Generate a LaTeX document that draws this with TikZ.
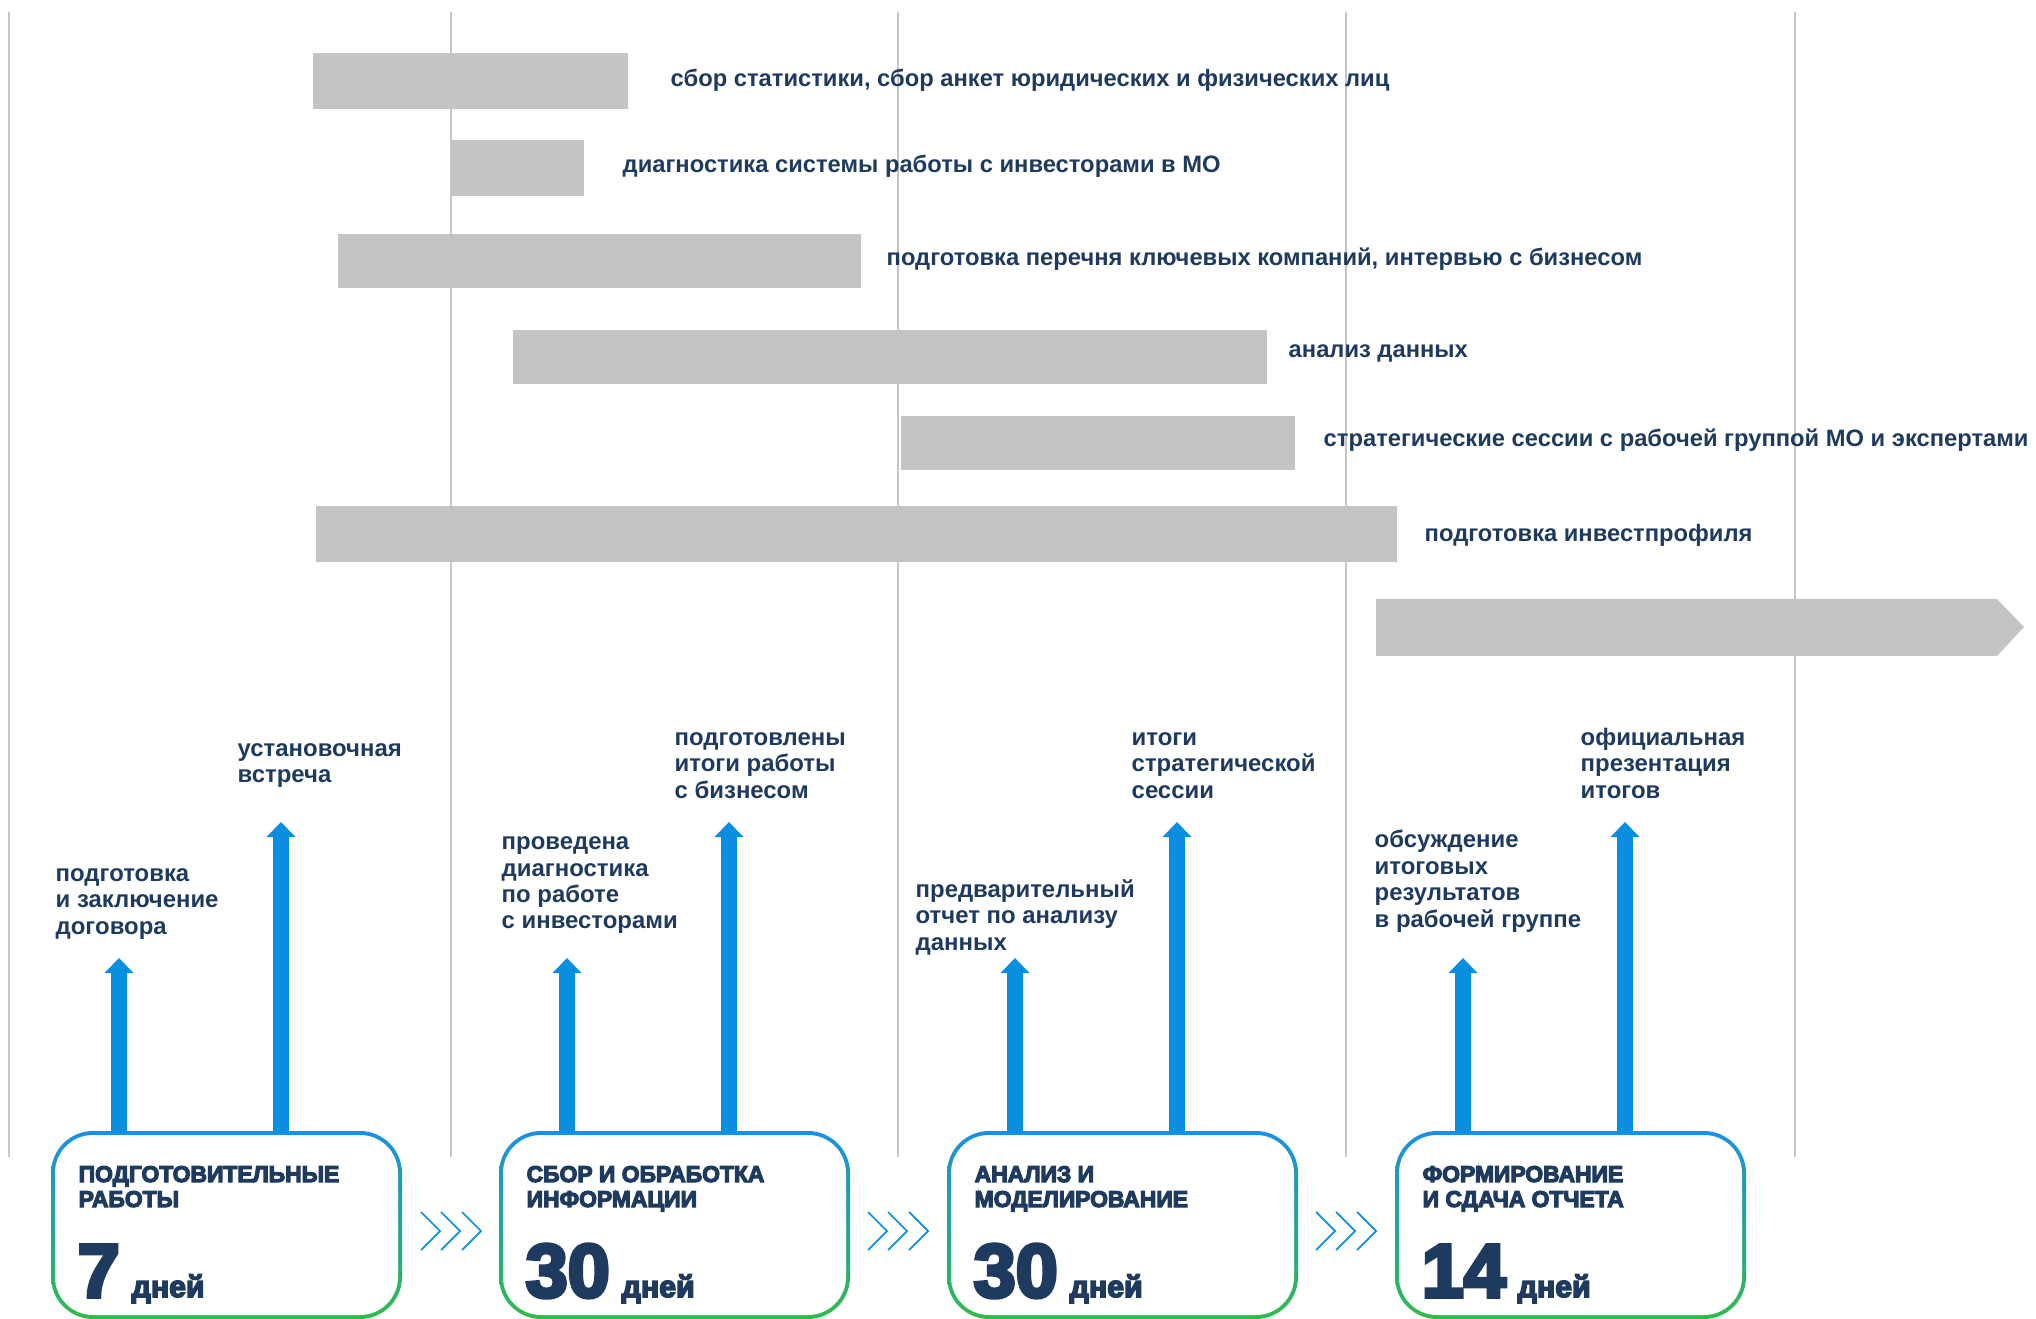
\documentclass[tikz,border=0pt]{standalone}
\usepackage{fontspec}
\setmainfont{Liberation Sans}
\newfontfamily\heavyfont[FakeBold=5]{Liberation Sans}
\usepackage{xcolor}
\usepackage{tikz}
\usetikzlibrary{calc, arrows.meta, positioning}

\definecolor{navy}{HTML}{1E3A5F}
\definecolor{barfill}{HTML}{C3C4C3}
\definecolor{gridgray}{HTML}{C6C6C6}
\definecolor{arrowblue}{HTML}{0A8FE0}
\definecolor{boxblue}{HTML}{1B8FE6}
\definecolor{boxgreen}{HTML}{2EBD4A}

\tikzset{
    gridline/.style={draw=gridgray, line width=0.57pt},
    bar/.style={fill=barfill},
    barlabel/.style={anchor=west, inner sep=0pt, text=navy,
        font=\bfseries\fontsize{6.75}{7.5}\selectfont},
    milestone/.style={anchor=base west, inner sep=0pt, align=left, text=navy,
        font=\bfseries\fontsize{6.8}{7.5}\selectfont},
    uparrow/.style={draw=arrowblue, line width=4.3pt,
        -{Triangle[width=8.3pt, length=4.3pt, line width=0pt]}},
    chevron/.style={draw=arrowblue, line width=0.5pt},
    stagetitle/.style={anchor=base west, inner sep=0pt, align=left, text=navy,
        font=\heavyfont\bfseries\fontsize{6.5}{7.1}\selectfont},
    daynum/.style={anchor=base west, inner sep=0pt, text=navy,
        font=\heavyfont\bfseries\fontsize{21.5}{22}\selectfont},
    dayword/.style={anchor=base west, inner sep=0pt, text=navy,
        font=\heavyfont\bfseries\fontsize{8.6}{9}\selectfont}
}

\begin{document}
\begin{tikzpicture}[x=0.01cm, y=-0.01cm]

    \useasboundingbox (0,0) rectangle (2036,1319);

    % =================================================================
    % 1. ВЕРТИКАЛЬНЫЕ ЛИНИИ СЕТКИ
    % =================================================================
    \foreach \x in {9, 451, 898, 1346, 1795}
        \draw[gridline] (\x,12) -- (\x,1157);

    % =================================================================
    % 2. ПОЛОСЫ ДИАГРАММЫ И ПОДПИСИ
    % =================================================================
    \fill[bar] (313,53) rectangle (628,109);
    \fill[bar] (451,140) rectangle (584,196);
    \fill[bar] (338,234) rectangle (861,288);
    \fill[bar] (513,330) rectangle (1267,384);
    \fill[bar] (901,416) rectangle (1295,470);
    \fill[bar] (316,506) rectangle (1397,562);
    % Полоса-стрелка
    \fill[bar] (1376,599) -- (1997,599) -- (2024,627) -- (1997,656) -- (1376,656) -- cycle;

    \node[barlabel] (Stat) at (670,80) {сбор статистики, сбор анкет юридических и физических лиц};
    \node[barlabel] (Diag) at (622,166) {диагностика системы работы с инвесторами в МО};
    \node[barlabel] (Komp) at (886,259) {подготовка перечня ключевых компаний, интервью с бизнесом};
    \node[barlabel] (Data) at (1288,353) {анализ данных};
    \node[barlabel] (Sess) at (1323,440) {стратегические сессии с рабочей группой МО и экспертами};
    \node[barlabel] (Prof) at (1424,535) {подготовка инвестпрофиля};

    % =================================================================
    % 3. БЛОКИ ЭТАПОВ (ГРАДИЕНТНАЯ РАМКА)
    % =================================================================
    \foreach \i/\x/\title/\n in {1/53/{ПОДГОТОВИТЕЛЬНЫЕ\\РАБОТЫ}/7,
                                 2/501/{СБОР И ОБРАБОТКА\\ИНФОРМАЦИИ}/30,
                                 3/949/{АНАЛИЗ И\\МОДЕЛИРОВАНИЕ}/30,
                                 4/1397/{ФОРМИРОВАНИЕ\\И СДАЧА ОТЧЕТА}/14} {
        \shade[top color=boxblue, bottom color=boxgreen, rounded corners=12pt]
            ({\x-2},1131) rectangle ({\x+349},1319);
        \fill[white, rounded corners=10.8pt] ({\x+2},1135) rectangle ({\x+345},1315);
        \node[stagetitle] (Title\i) at ({\x+25},1207) {\title};
        \node[daynum] (Num\i) at ({\x+24},1297) {\n};
        \node[dayword, xshift=3pt] (Days\i) at (Num\i.base east) {дней};
        % точки для стрелок
        \coordinate (ShortBase\i) at ({\x+66},1133);
        \coordinate (ShortTip\i) at ({\x+66},958);
        \coordinate (TallBase\i) at ({\x+228},1133);
        \coordinate (TallTip\i) at ({\x+228},822);
        \draw[uparrow] (ShortBase\i) -- (ShortTip\i);
        \draw[uparrow] (TallBase\i) -- (TallTip\i);
    }

    % Шевроны между блоками
    \foreach \c in {451, 898, 1346}
        \foreach \d in {-30, -10, 11}
            \draw[chevron] ({\c+\d},1212) -- ({\c+\d+19},1231) -- ({\c+\d},1250);

    % =================================================================
    % 4. ПОДПИСИ КОНТРОЛЬНЫХ ТОЧЕК (по базовой линии последней строки)
    % =================================================================
    \node[milestone] (Dogovor) at (55,934) {подготовка\\и заключение\\договора};
    \node[milestone] (Vstrecha) at (237,783) {установочная\\встреча};
    \node[milestone] (Provedena) at (501,929) {проведена\\диагностика\\по работе\\с инвесторами};
    \node[milestone] (Itogi) at (674,798) {подготовлены\\итоги работы\\с бизнесом};
    \node[milestone] (Otchet) at (915,950) {предварительный\\отчет по анализу\\данных};
    \node[milestone] (Sessia) at (1131,798) {итоги\\стратегической\\сессии};
    \node[milestone] (Obsuzhd) at (1374,927) {обсуждение\\итоговых\\результатов\\в рабочей группе};
    \node[milestone] (Prezent) at (1580,798) {официальная\\презентация\\итогов};

\end{tikzpicture}
\end{document}
